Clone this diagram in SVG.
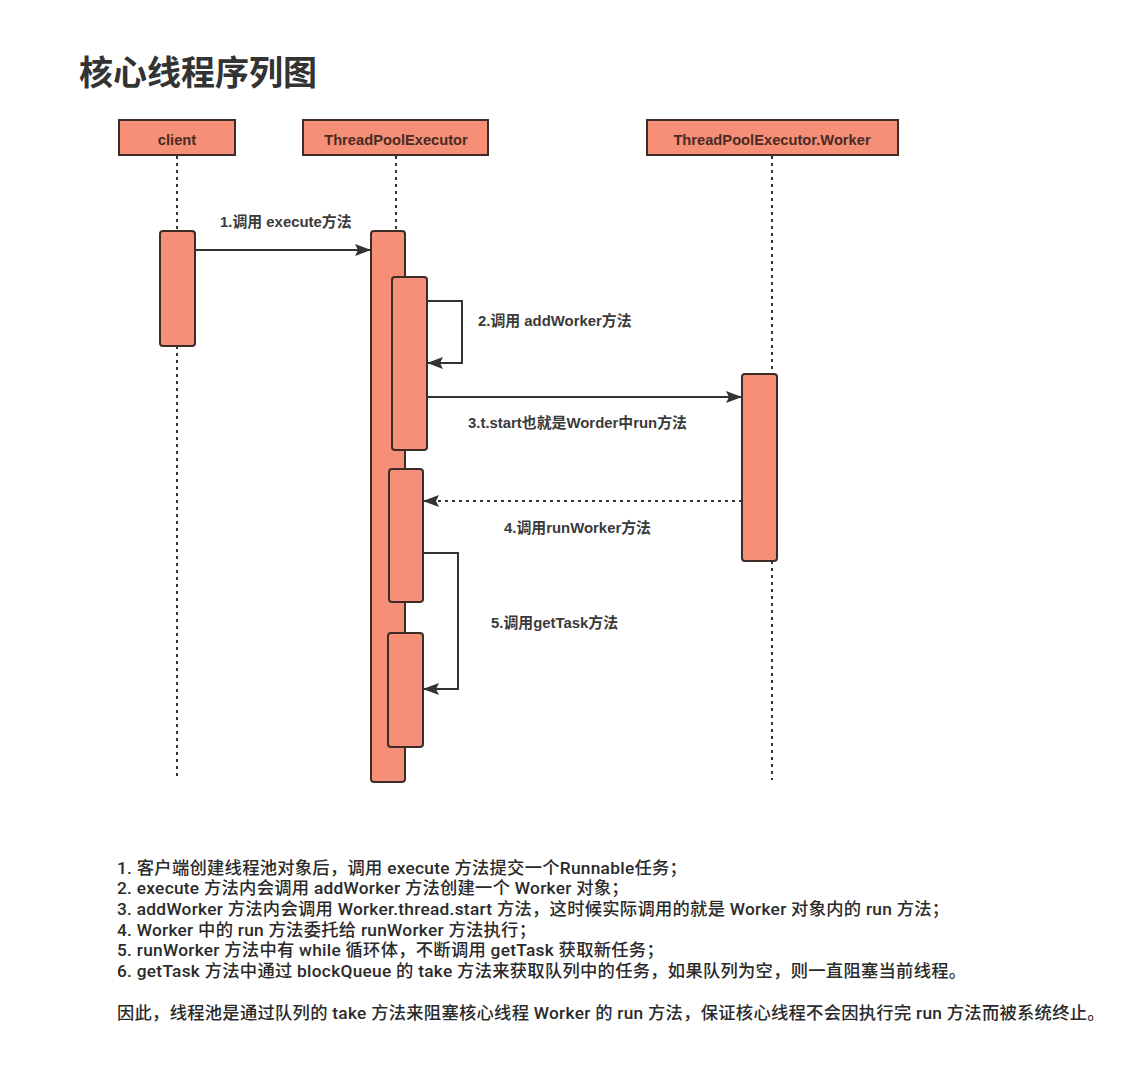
<svg xmlns="http://www.w3.org/2000/svg" width="1134" height="1080" viewBox="0 0 1134 1080">
<style>
.bg{fill:#ffffff}
.title{font-family:"Noto Sans CJK SC","Noto Sans",sans-serif;font-size:34px;font-weight:700;fill:#333333}
.head{fill:#F58F78;stroke:#3d2b26;stroke-width:2}
.headtxt{font-family:"Liberation Sans","Noto Sans CJK SC",sans-serif;font-size:14.7px;font-weight:700;fill:#4a2a22;text-anchor:middle}
.act{fill:#F58F78;stroke:#3d2b26;stroke-width:2}
.life{fill:none;stroke:#333333;stroke-width:2;stroke-dasharray:3 4}
.msg{fill:none;stroke:#333333;stroke-width:2}
.dmsg{fill:none;stroke:#333333;stroke-width:2;stroke-dasharray:3 4}
.lbl{font-family:"Liberation Sans","Noto Sans CJK SC",sans-serif;font-size:14.9px;font-weight:700;fill:#3a3a3a}
.note{font-family:Roboto,"Noto Sans CJK SC",sans-serif;font-size:17.3px;font-weight:500;letter-spacing:0.28px;fill:#2a2a2a}
</style>
<defs>
<marker id="arr" markerUnits="userSpaceOnUse" markerWidth="17" markerHeight="12" refX="16" refY="6" orient="auto">
<path d="M0,0 L16,6 L0,12 L3,6 z" fill="#333333"/>
</marker>
</defs>
<rect class="bg" x="0" y="0" width="1134" height="1080"/>
<text class="title" x="79" y="85">核心线程序列图</text>

<g id="lifelines">
<line class="life" x1="177" y1="156" x2="177" y2="231"/>
<line class="life" x1="177" y1="346" x2="177" y2="780"/>
<line class="life" x1="396" y1="156" x2="396" y2="231"/>
<line class="life" x1="772" y1="156" x2="772" y2="374"/>
<line class="life" x1="772" y1="561" x2="772" y2="780"/>
</g>

<g id="client">
<rect class="head" x="119" y="120" width="116" height="35"/>
<text class="headtxt" x="177" y="145">client</text>
<rect class="act" x="160" y="231" width="35" height="115" rx="3"/>
</g>

<g id="threadPoolExecutor">
<rect class="head" x="303" y="120" width="185" height="35"/>
<text class="headtxt" x="396" y="145">ThreadPoolExecutor</text>
<rect class="act" x="371" y="231" width="34" height="551" rx="3"/>
<rect class="act" x="392" y="277" width="35" height="173" rx="3"/>
<rect class="act" x="389" y="469" width="34" height="133" rx="3"/>
<rect class="act" x="388" y="633" width="35" height="114" rx="3"/>
</g>

<g id="worker">
<rect class="head" x="647" y="120" width="251" height="35"/>
<text class="headtxt" x="772" y="145">ThreadPoolExecutor.Worker</text>
<rect class="act" x="742" y="374" width="35" height="187" rx="3"/>
</g>

<g id="connectors">
<line class="msg" x1="195" y1="250" x2="371" y2="250" marker-end="url(#arr)"/>
<path class="msg" d="M427,301 H462 V363 H427" marker-end="url(#arr)"/>
<line class="msg" x1="427" y1="397" x2="742" y2="397" marker-end="url(#arr)"/>
<line class="dmsg" x1="742" y1="501" x2="423" y2="501" marker-end="url(#arr)"/>
<path class="msg" d="M423,553 H458 V689 H423" marker-end="url(#arr)"/>
</g>

<g id="labels">
<text class="lbl" x="220" y="227">1.调用 execute方法</text>
<text class="lbl" x="478" y="326">2.调用 addWorker方法</text>
<text class="lbl" x="468" y="428">3.t.start也就是Worder中run方法</text>
<text class="lbl" x="504" y="533">4.调用runWorker方法</text>
<text class="lbl" x="491" y="628">5.调用getTask方法</text>
</g>

<g id="notes">
<text class="note" x="117" y="874">1. 客户端创建线程池对象后，调用 execute 方法提交一个Runnable任务；</text>
<text class="note" x="117" y="894">2. execute 方法内会调用 addWorker 方法创建一个 Worker 对象；</text>
<text class="note" x="117" y="915">3. addWorker 方法内会调用 Worker.thread.start 方法，这时候实际调用的就是 Worker 对象内的 run 方法；</text>
<text class="note" x="117" y="936">4. Worker 中的 run 方法委托给 runWorker 方法执行；</text>
<text class="note" x="117" y="956">5. runWorker 方法中有 while 循环体，不断调用 getTask 获取新任务；</text>
<text class="note" x="117" y="977">6. getTask 方法中通过 blockQueue 的 take 方法来获取队列中的任务，如果队列为空，则一直阻塞当前线程。</text>
<text class="note" x="117" y="1019">因此，线程池是通过队列的 take 方法来阻塞核心线程 Worker 的 run 方法，保证核心线程不会因执行完 run 方法而被系统终止。</text>
</g>
</svg>
